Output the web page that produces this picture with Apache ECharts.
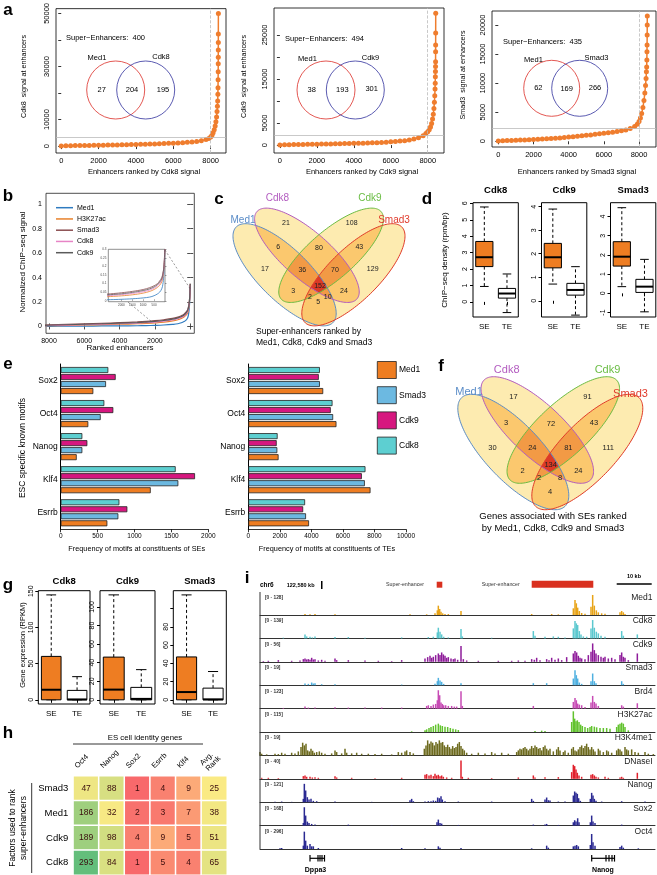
<!DOCTYPE html>
<html><head><meta charset="utf-8">
<script src="https://cdn.jsdelivr.net/npm/echarts@6/dist/echarts.min.js"></script>
<style>html,body{margin:0;padding:0;background:#fff;}#chart{width:657px;height:875px;}</style>
</head><body><div id="chart"></div>
<script>
// ================= DATA =================
// Panel a: ranked enhancer signal (rank, signal)
const aFlatRank = [0,250,500,750,1000,1250,1500,1750,2000,2250,2500,2750,3000,3250,3500,3750,4000,4250,4500,4750,5000,5250,5500,5750,6000,6250,6500,6750,7000,7250,7500,7750];
const aCdk8Flat = [50,100,150,180,210,240,270,300,330,360,390,420,460,500,540,580,620,670,720,770,830,890,960,1030,1110,1200,1300,1420,1560,1750,2000,2450];
const aCdk8TailRank = [7900,8000,8070,8130,8190,8240,8280,8315,8340,8360,8375,8385,8392,8398,8402,8405,8407,8408,8409,8410,8412];
const aCdk8TailSig = [2900,3400,4100,5000,6200,7600,9200,11000,13000,15000,17000,19500,22000,25000,28000,31000,33500,36200,39000,42200,50000];
const aCdk9Flat = [30,60,90,110,130,150,170,190,210,230,250,270,290,310,335,360,385,410,440,470,500,540,580,660,750,820,900,1000,1140,1350,1650,2100];
const aCdk9TailRank = [7900,8000,8080,8150,8210,8260,8300,8335,8360,8380,8395,8405,8412,8417,8421,8424,8426,8428,8430,8432];
const aCdk9TailSig = [2600,3000,3500,4100,4900,5900,7000,8300,9700,11200,12700,14000,15500,16700,17800,18900,21200,22700,25400,29900];
const aSmad3Flat = [60,90,120,150,180,210,240,270,300,340,380,420,470,520,580,650,720,790,860,940,1020,1100,1190,1280,1370,1470,1570,1680,1800,1960,2180,2550];
const aSmad3TailRank = [7900,8000,8080,8150,8220,8280,8330,8370,8400,8420,8435,8445,8452,8458,8463,8467,8470];
const aSmad3TailSig = [2950,3400,4000,4800,5800,7000,8300,9600,10800,11950,12800,14000,15400,16550,18300,20000,21550];
const aCutoffSig = [3400, 2270, 2300];
const aCutoffRank = [8000, 7960, 8010];
const aFactors = ['Cdk8','Cdk9','Smad3'];
const aSuperEnh = [400, 494, 435];
const aMed1Only = [27, 38, 62];
const aShared = [204, 193, 169];
const aOtherOnly = [195, 301, 266];

// Panel b: normalized signal vs rank
const bRank    = [8700,8000,7000,6000,5000,4000,3000,2500,2000,1500,1000,700,500,350,250,150,100,60,30,10,0];
const bMed1    = [0.000,0.001,0.002,0.003,0.004,0.005,0.006,0.007,0.009,0.012,0.017,0.022,0.030,0.040,0.050,0.070,0.095,0.140,0.200,0.280,0.330];
const bH3K27ac = [0.004,0.006,0.009,0.012,0.015,0.018,0.022,0.025,0.029,0.035,0.045,0.055,0.066,0.078,0.090,0.110,0.135,0.170,0.220,0.290,0.340];
const bSmad3   = [0.010,0.013,0.017,0.021,0.026,0.031,0.037,0.041,0.047,0.055,0.066,0.077,0.088,0.100,0.115,0.135,0.160,0.190,0.240,0.300,0.350];
const bCdk8    = [0.006,0.008,0.011,0.014,0.018,0.022,0.027,0.031,0.036,0.043,0.053,0.063,0.074,0.086,0.100,0.120,0.145,0.180,0.230,0.290,0.340];
const bCdk9    = [0.008,0.010,0.014,0.018,0.022,0.027,0.032,0.036,0.041,0.049,0.060,0.070,0.081,0.094,0.108,0.128,0.152,0.185,0.235,0.300,0.350];
const bNames = ['Med1','H3K27ac','Smad3','Cdk8','Cdk9'];

// Panel c / f: 4-way Venn region counts
const vennSets = ['Med1','Cdk8','Cdk9','Smad3'];
const cCounts = [21,108,6,80,43,17,36,70,129,3,152,24,2,10,5];
const fCounts = [17,91,3,72,43,30,24,81,111,2,134,24,2,8,4];

// Panel d: ChIP-seq density boxplots [lowWhisker, Q1, median, Q3, highWhisker] for SE, TE
const dTitles = ['Cdk8','Cdk9','Smad3'];
const dCdk8  = [[0.94,2.15,2.72,3.68,5.78],[-0.65,0.23,0.51,0.82,1.70]];
const dCdk9  = [[0.71,1.40,1.85,2.44,3.90],[-0.61,0.24,0.46,0.74,1.45]];
const dSmad3 = [[0.35,1.42,1.91,2.69,4.46],[-0.96,0.05,0.35,0.73,1.77]];
const boxCats = ['SE','TE'];

// Panel e: motif frequency
const eMotifs = ['Sox2','Oct4','Nanog','Klf4','Esrrb'];
const eSE_Cdk8  = [645,591,293,1558,795];
const eSE_Cdk9  = [745,713,361,1820,903];
const eSE_Smad3 = [614,542,293,1594,781];
const eSE_Med1  = [442,374,217,1220,632];
const eTE_Cdk8  = [4540,5340,1860,7430,3600];
const eTE_Cdk9  = [4470,5230,1800,7200,3480];
const eTE_Smad3 = [4540,5380,1840,7390,3660];
const eTE_Med1  = [4750,5590,1920,7750,3850];
const eLegend = ['Med1','Smad3','Cdk9','Cdk8'];

// Panel g: gene expression boxplots
const gCdk8  = [[0,0,13.9,60,145],[0,0,0.5,13,32]];
const gCdk9  = [[0,0,11,46,113],[0,0,1,13.4,32.5]];
const gSmad3 = [[0,0,8.5,47,115],[0,0,0.5,12.8,31]];

// Panel h: rank of ES cell identity genes
const hCols = ['Oct4','Nanog','Sox2','Esrrb','Klf4','Avg.\nRank'];
const hRows = ['Smad3','Med1','Cdk9','Cdk8'];
const hSmad3 = [47,88,1,4,9,25];
const hMed1  = [186,32,2,3,7,38];
const hCdk9  = [189,98,4,9,5,51];
const hCdk8  = [293,84,1,5,4,65];

// Panel i: genome browser tracks [position, height]
const iNames  = ['Med1','Cdk8','Cdk9','Smad3','Brd4','H3K27ac','H3K4me1','DNaseI','Nanog','Sox2','Oct4'];
const iRanges = ['[0 - 128]','[0 - 139]','[0 - 56]','[0 - 19]','[0 - 123]','[0 - 115]','[0 - 19]','[0 - 40]','[0 - 121]','[0 - 168]','[0 - 296]'];
const iMed1 = [[240,3],[255,2],[270,3],[330,2],[555,2],[605,2],[630,5],[637,14],[640,28],[644,18],[648,10],[653,5],[660,3],[670,3],[708,12],[920,3],[980,3],[1000,2],[1045,20],[1050,45],[1054,35],[1058,22],[1063,12],[1070,6],[1080,4],[1098,25],[1103,60],[1108,28],[1114,14],[1120,8],[1130,5],[1140,4],[1185,8],[1190,12],[1195,8],[1200,3]];
const iCdk8 = [[175,2],[240,12],[245,6],[255,5],[262,3],[270,6],[330,4],[370,4],[420,2],[530,3],[610,4],[625,5],[637,18],[640,32],[645,20],[650,12],[656,5],[670,3],[708,28],[712,6],[800,2],[925,22],[930,8],[960,5],[985,6],[1000,5],[1020,3],[1045,30],[1050,52],[1054,45],[1058,40],[1063,22],[1068,12],[1075,6],[1085,5],[1098,30],[1103,55],[1108,32],[1114,20],[1120,15],[1128,8],[1140,5],[1190,22],[1195,8],[1237,12]];
const iCdk9 = [[115,2],[130,3],[160,5],[200,3],[225,4],[235,8],[240,10],[245,7],[250,8],[255,6],[260,12],[265,7],[270,8],[280,4],[290,6],[300,3],[330,10],[335,5],[370,5],[420,4],[460,3],[500,2],[530,5],[600,10],[608,14],[615,18],[620,12],[625,15],[632,20],[640,25],[645,20],[650,28],[655,22],[660,18],[665,12],[670,14],[678,10],[685,8],[690,10],[698,6],[708,47],[715,8],[725,4],[760,3],[820,3],[860,3],[880,4],[900,3],[920,8],[928,6],[935,12],[945,5],[965,8],[972,5],[980,12],[990,6],[1000,10],[1010,5],[1025,14],[1045,25],[1050,32],[1055,28],[1060,18],[1065,12],[1070,10],[1080,8],[1090,20],[1098,30],[1103,55],[1108,35],[1113,25],[1120,20],[1128,15],[1135,12],[1140,15],[1150,10],[1160,12],[1170,8],[1185,20],[1190,28],[1195,15],[1200,12],[1210,5],[1237,25]];
const iSmad3 = [[240,5],[250,4],[260,8],[265,5],[270,6],[290,3],[330,3],[530,2],[630,4],[637,12],[640,22],[645,14],[650,10],[656,4],[708,6],[925,6],[965,6],[1045,20],[1050,45],[1054,30],[1058,20],[1063,8],[1070,4],[1098,12],[1103,35],[1108,12],[1113,6],[1190,12],[1195,4]];
const iBrd4 = [[175,2],[240,6],[250,3],[270,3],[330,4],[370,3],[420,3],[470,3],[530,3],[605,8],[610,10],[618,8],[625,12],[632,14],[637,25],[640,55],[644,40],[648,18],[652,14],[656,10],[662,10],[670,8],[680,8],[688,6],[695,6],[708,52],[712,8],[925,8],[1045,20],[1050,32],[1054,25],[1058,15],[1063,12],[1070,10],[1080,5],[1098,18],[1103,38],[1108,20],[1113,15],[1120,8],[1190,10],[1195,6],[1237,16]];
const iH3K27ac = [[560,2],[600,5],[605,8],[612,12],[618,15],[625,18],[632,22],[640,25],[646,20],[652,18],[660,16],[668,15],[676,12],[684,10],[692,8],[700,6],[930,3],[950,4],[960,3],[1040,30],[1045,62],[1049,40],[1053,32],[1057,35],[1062,30],[1067,22],[1072,18],[1080,15],[1088,12],[1095,15],[1100,18],[1108,16],[1115,14],[1125,12],[1135,12],[1145,12],[1155,10],[1175,15],[1180,22],[1185,25],[1190,28],[1195,25],[1200,15],[1210,5]];
const iH3K4me1 = [[105,10],[110,5],[125,3],[150,5],[160,4],[170,8],[180,5],[200,8],[210,6],[220,12],[228,25],[233,38],[238,30],[243,35],[248,15],[253,12],[258,20],[263,14],[268,8],[275,10],[283,12],[290,8],[300,5],[320,6],[330,15],[335,10],[350,6],[360,20],[365,8],[380,6],[395,8],[410,5],[430,5],[450,4],[470,5],[500,3],[520,10],[530,8],[540,12],[545,15],[555,10],[565,6],[598,20],[603,30],[608,45],[613,35],[618,42],[623,38],[628,30],[633,40],[638,35],[643,45],[648,38],[653,40],[658,30],[663,25],[668,32],[673,25],[678,20],[683,28],[688,22],[693,25],[698,35],[703,40],[708,28],[713,20],[718,15],[725,8],[740,5],[760,8],[780,6],[800,10],[810,6],[830,8],[850,5],[875,10],[880,15],[885,20],[890,18],[895,22],[900,25],[905,20],[910,15],[915,20],[920,28],[925,22],[930,30],[935,25],[940,20],[945,22],[950,15],[955,25],[960,30],[965,20],[970,15],[975,20],[985,12],[995,18],[1000,25],[1005,15],[1015,10],[1020,15],[1030,8],[1040,20],[1045,25],[1050,15],[1055,12],[1060,18],[1065,25],[1070,30],[1075,22],[1080,28],[1085,35],[1090,25],[1095,18],[1100,25],[1105,18],[1110,12],[1120,20],[1125,15],[1135,10],[1145,15],[1150,12],[1160,8],[1175,15],[1180,20],[1185,18],[1190,12],[1200,25],[1205,18],[1210,15],[1220,18],[1230,10],[1240,8],[1260,10],[1270,5],[1285,4]];
const iDNaseI = [[110,3],[130,3],[160,2],[235,8],[240,10],[245,6],[255,6],[262,4],[270,5],[280,3],[330,8],[335,4],[380,3],[450,2],[530,3],[600,12],[605,14],[612,10],[618,12],[625,8],[630,15],[635,10],[640,12],[645,8],[650,10],[655,6],[665,4],[680,3],[708,55],[712,6],[730,3],[800,2],[880,4],[925,10],[930,4],[960,5],[1000,5],[1040,20],[1045,42],[1049,38],[1053,28],[1057,18],[1062,10],[1070,6],[1098,12],[1103,14],[1108,10],[1113,6],[1120,4],[1140,6],[1150,3],[1185,4],[1190,6],[1195,3],[1237,18]];
const iNanog = [[150,1],[170,2],[200,1],[235,10],[238,55],[242,35],[247,15],[252,8],[258,10],[265,4],[275,3],[330,2],[440,1],[555,6],[560,10],[565,3],[600,2],[610,3],[618,3],[625,5],[632,4],[638,14],[643,12],[648,18],[652,8],[660,3],[700,2],[800,2],[920,10],[925,4],[960,8],[965,14],[970,6],[975,5],[1000,2],[1020,2],[1045,20],[1049,32],[1053,28],[1057,25],[1061,12],[1066,4],[1096,10],[1100,28],[1104,20],[1108,10],[1113,4],[1130,2],[1190,3],[1260,2]];
const iSox2 = [[170,1],[235,8],[238,55],[242,30],[247,12],[252,8],[260,5],[270,3],[370,3],[500,1],[636,10],[640,18],[645,8],[650,6],[700,2],[925,3],[960,3],[965,5],[1000,2],[1045,10],[1049,16],[1053,12],[1058,22],[1062,10],[1096,10],[1100,30],[1104,12],[1110,8],[1190,3]];
const iOct4 = [[165,2],[170,3],[235,10],[238,52],[242,25],[247,10],[255,15],[260,8],[265,8],[280,3],[530,3],[600,2],[640,8],[645,4],[708,3],[920,2],[965,10],[970,4],[1045,8],[1050,10],[1055,12],[1060,8],[1096,12],[1100,45],[1104,20],[1110,10],[1185,6],[1190,10],[1195,4],[1240,2]];

// ================= BUILD =================
const FONT = '"Liberation Sans", Arial, Helvetica, sans-serif';
const ORANGE = '#EE7D22';
const grids = [], xAxes = [], yAxes = [], series = [], graphics = [];
const plain = v => String(v);
function addGrid(l, t, w, h, extra) { grids.push(Object.assign({left:l, top:t, width:w, height:h, containLabel:false}, extra||{})); return grids.length-1; }
function addX(o){ xAxes.push(o); return xAxes.length-1; }
function addY(o){ yAxes.push(o); return yAxes.length-1; }
function lbl(fs, extra) { return Object.assign({fontSize:fs, color:'#000', fontFamily:FONT}, extra||{}); }
function T(x, y, text, o) {
  o = o || {};
  graphics.push({type:'text', x:x, y:y, rotation:o.rot||0, z:100, silent:true,
    style:{text:text, fontSize:o.fs||8, fontFamily:FONT, fontWeight:o.fw||'normal', fill:o.color||'#000',
      align:o.align||'center', verticalAlign:o.va||'middle', textAlign:o.align||'center', textVerticalAlign:o.va||'middle', lineHeight:o.lh}});
}
function L(x1,y1,x2,y2,o){ o=o||{}; graphics.push({type:'line', z:90, silent:true, shape:{x1,y1,x2,y2}, style:{stroke:o.color||'#000', lineWidth:o.w||1, lineDash:o.dash||null}}); }
function R(x,y,w,h,o){ o=o||{}; graphics.push({type:'rect', z:o.z||90, silent:true, shape:{x,y,width:w,height:h}, style:{fill:o.fill||'#000', stroke:o.stroke||null, lineWidth:o.lw||0}}); }

// panel letters
[['a',8,10],['b',8,196],['c',219,199],['d',427,199],['e',8,364],['f',441,366],['g',8,585],['h',8,733],['i',247,578]].forEach(p=>T(p[1],p[2],p[0],{fs:17,fw:'bold'}));

// ---------- Panel a ----------
const aPlots = [
  {box:[56,8,170,145], x:[-280,8820], y:[-2600,51800], yl:[0,10000,30000,50000], yt:[0,10000,20000,30000,40000,50000],
   rank:aFlatRank.concat(aCdk8TailRank), sig:aCdk8Flat.concat(aCdk8TailSig), ytx:24,
   c1:[115.7,90], c2:[145.7,90], r:29, seX:66, seY:38, m1:[97,58], o:[161,57], n:[[101.7,90],[132,90],[163,90]]},
  {box:[274,8,170,145], x:[-320,8880], y:[-1800,31100], yl:[0,5000,15000,25000], yt:[0,5000,10000,15000,20000,25000],
   rank:aFlatRank.concat(aCdk9TailRank), sig:aCdk9Flat.concat(aCdk9TailSig), ytx:244,
   c1:[326,90], c2:[355.3,90], r:29, seX:285, seY:39, m1:[307.5,59], o:[370.5,58], n:[[311.7,90],[342.3,90],[371.7,89]]},
  {box:[492,11,164,136], x:[-358,8965], y:[-983,22414], yl:[0,5000,10000,15000,20000], yt:[0,5000,10000,15000,20000],
   rank:aFlatRank.concat(aSmad3TailRank), sig:aSmad3Flat.concat(aSmad3TailSig), ytx:463,
   c1:[551.7,88.3], c2:[579.7,88.3], r:28, seX:503, seY:41.7, m1:[533.5,60], o:[596.5,57.7], n:[[538.3,88.3],[566.7,89],[595,88.3]]}
];
aPlots.forEach((p, k) => {
  const gi = addGrid(p.box[0], p.box[1], p.box[2], p.box[3], {show:true, borderColor:'#000', borderWidth:0.8});
  const xi = addX({type:'value', gridIndex:gi, min:p.x[0], max:p.x[1], axisLine:{show:false}, splitLine:{show:false},
    axisTick:{show:true, length:3, customValues:[0,2000,4000,6000,8000], lineStyle:{color:'#000', width:0.8}},
    axisLabel:lbl(7.5, {margin:4, customValues:[0,2000,4000,6000,8000], formatter:plain})});
  const yi = addY({type:'value', gridIndex:gi, min:p.y[0], max:p.y[1], axisLine:{show:false}, splitLine:{show:false},
    axisTick:{show:true, length:3, customValues:p.yt, lineStyle:{color:'#000', width:0.8}},
    axisLabel:lbl(7.5, {margin:5, rotate:90, customValues:p.yl, formatter:plain})});
  series.push({type:'line', xAxisIndex:xi, yAxisIndex:yi, data:p.rank.map((r,i)=>[r,p.sig[i]]),
    symbol:'circle', symbolSize:5, showAllSymbol:true, itemStyle:{color:'#EF7D2E'}, lineStyle:{color:'#EF7D2E', width:1.5},
    animation:false, silent:true,
    markLine:{silent:true, symbol:'none', label:{show:false}, animation:false,
      data:[{yAxis:aCutoffSig[k], lineStyle:{color:'#BBBBBB', type:'solid', width:0.8}},
            {xAxis:aCutoffRank[k], lineStyle:{color:'#BBBBBB', type:'dashed', width:0.8}}]}});
  const cx = p.box[0] + p.box[2]/2 + 3;
  T(cx, 172, 'Enhancers ranked by ' + aFactors[k] + ' signal', {fs:7.5});
  T(p.ytx, p.box[1] + p.box[3]/2 - 4, aFactors[k] + '  signal at enhancers', {fs:7.2, rot:Math.PI/2});
  graphics.push({type:'circle', z:95, silent:true, shape:{cx:p.c1[0], cy:p.c1[1], r:p.r}, style:{fill:'none', stroke:'#E0453F', lineWidth:0.9}});
  graphics.push({type:'circle', z:95, silent:true, shape:{cx:p.c2[0], cy:p.c2[1], r:p.r}, style:{fill:'none', stroke:'#4848A8', lineWidth:0.9}});
  T(p.seX, p.seY, 'Super\u2212Enhancers:  ' + aSuperEnh[k], {fs:7.5, align:'left'});
  T(p.m1[0], p.m1[1], 'Med1', {fs:7.5});
  T(p.o[0], p.o[1], aFactors[k], {fs:7.5});
  T(p.n[0][0], p.n[0][1], String(aMed1Only[k]), {fs:7.5});
  T(p.n[1][0], p.n[1][1], String(aShared[k]), {fs:7.5});
  T(p.n[2][0], p.n[2][1], String(aOtherOnly[k]), {fs:7.5});
});

// ---------- Panel b ----------
const bColors = ['#2F7BC0','#E8812B','#8B4D50','#E784C6','#5A5A5A'];
const bData = [bMed1, bH3K27ac, bSmad3, bCdk8, bCdk9];
{
  const gi = addGrid(46, 193.3, 148.3, 140, {show:true, borderColor:'#222', borderWidth:0.8});
  const tk = () => ({show:true, inside:true, length:3, lineStyle:{color:'#222', width:0.8}});
  const xr = [-232, 8170], yr = [-0.056, 1.09];
  const xi = addX({type:'value', gridIndex:gi, inverse:true, min:xr[0], max:xr[1], axisLine:{show:false}, splitLine:{show:false},
    axisTick:Object.assign(tk(), {customValues:[8000,6000,4000,2000,0]}), axisLabel:lbl(7, {margin:4, customValues:[8000,6000,4000,2000], formatter:plain})});
  const yi = addY({type:'value', gridIndex:gi, min:yr[0], max:yr[1], axisLine:{show:false}, splitLine:{show:false},
    axisTick:Object.assign(tk(), {customValues:[0,0.2,0.4,0.6,0.8,1]}), axisLabel:lbl(7, {margin:4, customValues:[0,0.2,0.4,0.6,0.8,1], formatter:plain})});
  addX({type:'value', gridIndex:gi, position:'top', inverse:true, min:xr[0], max:xr[1], axisLine:{show:false}, splitLine:{show:false},
    axisTick:Object.assign(tk(), {customValues:[8000,6000,4000,2000,0]}), axisLabel:{show:false}});
  addY({type:'value', gridIndex:gi, position:'right', min:yr[0], max:yr[1], axisLine:{show:false}, splitLine:{show:false},
    axisTick:Object.assign(tk(), {customValues:[0,0.2,0.4,0.6,0.8,1]}), axisLabel:{show:false}});
  bData.forEach((d, k) => series.push({type:'line', xAxisIndex:xi, yAxisIndex:yi, data:bRank.map((r,i)=>[r,d[i]]), smooth:0.4,
    symbol:'none', lineStyle:{color:bColors[k], width:1.2}, animation:false, silent:true}));
  // inset
  const ii = addGrid(108.3, 249.3, 56.7, 52.4, {show:true, borderColor:'#444', borderWidth:0.6, backgroundColor:'#fff', z:5});
  const tk2 = () => ({show:true, inside:true, length:1.5, lineStyle:{color:'#444', width:0.5}});
  const xi2 = addX({type:'value', gridIndex:ii, inverse:true, min:0, max:2600, axisLine:{show:false}, splitLine:{show:false},
    axisTick:Object.assign(tk2(), {customValues:[2000,1500,1000,500]}), axisLabel:lbl(3, {margin:2, color:'#444', customValues:[2000,1500,1000,500], formatter:plain}), z:6});
  const yi2 = addY({type:'value', gridIndex:ii, min:-0.005, max:0.3, axisLine:{show:false}, splitLine:{show:false},
    axisTick:Object.assign(tk2(), {customValues:[0,0.05,0.1,0.15,0.2,0.25,0.3]}), axisLabel:lbl(3, {margin:2, color:'#444', customValues:[0,0.05,0.1,0.15,0.2,0.25,0.3], formatter:plain}), z:6});
  bData.forEach((d, k) => series.push({type:'line', xAxisIndex:xi2, yAxisIndex:yi2, data:bRank.map((r,i)=>[r,d[i]]), smooth:0.4,
    symbol:'none', lineStyle:{color:bColors[k], width:0.8}, animation:false, silent:true, z:7}));
  L(165, 250, 191, 290, {dash:[2,2], w:0.6, color:'#555'});
  L(128, 302, 152, 322, {dash:[2,2], w:0.6, color:'#555'});
  bNames.forEach((n, k) => { const y = 207.7 + k*11.25; L(56, y, 73, y, {color:bColors[k], w:1.5}); T(77, y, n, {fs:7, align:'left'}); });
  T(120, 348, 'Ranked enhancers', {fs:8});
  T(22.7, 262, 'Normalized ChIP\u2212seq signal', {fs:8, rot:Math.PI/2});
}

// ---------- Venn helpers (panels c, f) ----------
const vennEll = [ // base frame: cx, cy, a, b, angle(deg)
  [-37, 2, 75, 28, 46.5], [-13, -20, 73, 26, 43], [13, -20, 73, 26, 137], [37, 2, 75, 28, 133.5]];
const vennStroke = ['#5B8DC8','#B35CC0','#6BBD45','#E03A2B'];
const vennFill = ['#FDEBB0','#FBC86E','#F29A45','#DC3A25'];
function ellPoly(e, ox, oy, sx, sy) {
  const pts = [], n = 160, ang = e[4]*Math.PI/180;
  for (let i = 0; i < n; i++) { const t = 2*Math.PI*i/n; const x = e[2]*Math.cos(t), y = e[3]*Math.sin(t);
    pts.push([ox + sx*(e[0] + x*Math.cos(ang) - y*Math.sin(ang)), oy + sy*(e[1] + x*Math.sin(ang) + y*Math.cos(ang))]); }
  return pts;
}
function area(p){ let s=0; for(let i=0;i<p.length;i++){const a=p[i],b=p[(i+1)%p.length]; s+=a[0]*b[1]-b[0]*a[1];} return s/2; }
function inter(P,Q,A,B){ const d=(P[0]-Q[0])*(A[1]-B[1])-(P[1]-Q[1])*(A[0]-B[0]); const t=((P[0]-A[0])*(A[1]-B[1])-(P[1]-A[1])*(A[0]-B[0]))/d; return [P[0]+t*(Q[0]-P[0]), P[1]+t*(Q[1]-P[1])]; }
function clipPoly(subj, clip) {
  const sg = area(clip) > 0 ? 1 : -1; let out = subj;
  for (let i = 0; i < clip.length && out.length; i++) {
    const A = clip[i], B = clip[(i+1)%clip.length]; const inp = out; out = [];
    const ins = p => sg*((B[0]-A[0])*(p[1]-A[1]) - (B[1]-A[1])*(p[0]-A[0])) >= 0;
    for (let j = 0; j < inp.length; j++) { const P = inp[j], Q = inp[(j+1)%inp.length]; const pi = ins(P), qi = ins(Q);
      if (qi) { if (!pi) out.push(inter(P,Q,A,B)); out.push(Q); } else if (pi) out.push(inter(P,Q,A,B)); }
  }
  return out;
}
function drawVenn(ox, oy, sx, sy, counts, numPos, labPos, fsNum, fsLab) {
  const polys = vennEll.map(e => ellPoly(e, ox, oy, sx, sy));
  for (let lvl = 1; lvl <= 4; lvl++) {
    for (let m = 1; m < 16; m++) {
      const idx = [0,1,2,3].filter(i => m & (1<<i)); if (idx.length !== lvl) continue;
      let p = polys[idx[0]]; for (let k = 1; k < idx.length; k++) p = clipPoly(p, polys[idx[k]]);
      if (p.length > 2) graphics.push({type:'polygon', z:20+lvl, silent:true, shape:{points:p}, style:{fill:vennFill[lvl-1], stroke:vennFill[lvl-1], lineWidth:0.3}});
    }
  }
  polys.forEach((p, k) => graphics.push({type:'polygon', z:30, silent:true, shape:{points:p}, style:{fill:'none', stroke:vennStroke[k], lineWidth:1}}));
  counts.forEach((c, k) => T(numPos[k][0], numPos[k][1], String(c), {fs:fsNum, color:'#222'}));
  vennSets.forEach((s, k) => T(labPos[k][0], labPos[k][1], s, {fs:fsLab, color:vennStroke[k]}));
}
drawVenn(319, 273, 0.93, 0.885, cCounts,
  [[286,222.7],[351.7,222.7],[278.3,247.3],[319,248.3],[359.3,247.3],[265,269.3],[302.3,270],[335,270],[372.7,269.3],[293.3,291],[320,286],[344,291],[310,297.3],[327.7,297.3],[318.3,302.3]],
  [[243,220.7],[277.5,198.3],[370,198.3],[394,220.7]], 7, 10);
T(256, 331.7, 'Super-enhancers ranked by', {fs:8.5, align:'left'});
T(256, 342.7, 'Med1, Cdk8, Cdk9 and Smad3', {fs:8.5, align:'left'});
drawVenn(550.3, 450, 1, 1, fCounts,
  [[513.5,397],[587.5,397],[506,423.3],[551,424.3],[594,423],[492.5,447.5],[532.3,448.3],[568.3,448.3],[608.3,447.7],[522.5,471],[550.7,465],[578.3,471],[539,478.3],[560,478.3],[550,492]],
  [[469,392.3],[506.7,370],[607.5,370],[630.5,394.3]], 7.5, 11);
T(553, 516, 'Genes associated with SEs ranked', {fs:9.5});
T(553, 528, 'by Med1, Cdk8, Cdk9 and Smad3', {fs:9.5});

// ---------- custom boxplot (R style) ----------
function boxRender(params, api) {
  const x = api.value(0), lo = api.value(1), q1 = api.value(2), md = api.value(3), q3 = api.value(4), hi = api.value(5);
  const fill = api.value(6) ? ORANGE : '#fff';
  const pLo = api.coord([x, lo]), pQ1 = api.coord([x, q1]), pMd = api.coord([x, md]), pQ3 = api.coord([x, q3]), pHi = api.coord([x, hi]);
  const band = api.size([1, 0])[0], hw = band*0.38, cw = band*0.19, cx = pMd[0];
  return {type:'group', children:[
    {type:'line', shape:{x1:cx, y1:pQ3[1], x2:cx, y2:pHi[1]}, style:{stroke:'#000', lineWidth:1, lineDash:[3,2.5]}},
    {type:'line', shape:{x1:cx, y1:pQ1[1], x2:cx, y2:pLo[1]}, style:{stroke:'#000', lineWidth:1, lineDash:[3,2.5]}},
    {type:'line', shape:{x1:cx-cw, y1:pHi[1], x2:cx+cw, y2:pHi[1]}, style:{stroke:'#000', lineWidth:1}},
    {type:'line', shape:{x1:cx-cw, y1:pLo[1], x2:cx+cw, y2:pLo[1]}, style:{stroke:'#000', lineWidth:1}},
    {type:'rect', shape:{x:cx-hw, y:pQ3[1], width:2*hw, height:pQ1[1]-pQ3[1]}, style:{fill:fill, stroke:'#000', lineWidth:1}},
    {type:'line', shape:{x1:cx-hw, y1:pMd[1], x2:cx+hw, y2:pMd[1]}, style:{stroke:'#000', lineWidth:2}}
  ]};
}
function boxPanel(box, yr, ticks, labels, stats, title, titleY) {
  const gi = addGrid(box[0], box[1], box[2], box[3], {show:true, borderColor:'#000', borderWidth:1});
  const xi = addX({type:'category', gridIndex:gi, data:boxCats, axisLine:{show:false}, splitLine:{show:false},
    axisTick:{show:true, alignWithLabel:true, length:3, lineStyle:{color:'#000'}}, axisLabel:lbl(8, {margin:6})});
  const yi = addY({type:'value', gridIndex:gi, min:yr[0], max:yr[1], axisLine:{show:false}, splitLine:{show:false},
    axisTick:{show:true, length:3, customValues:ticks, lineStyle:{color:'#000'}}, axisLabel:lbl(7, {margin:4, rotate:90, customValues:labels, formatter:plain})});
  series.push({type:'custom', xAxisIndex:xi, yAxisIndex:yi, renderItem:boxRender, animation:false, silent:true,
    encode:{x:0, y:[1,2,3,4,5]}, data:stats.map((s, i) => [i].concat(s).concat([i === 0 ? 1 : 0]))});
  T(box[0] + box[2]/2, titleY, title, {fs:9.5, fw:'bold'});
}
boxPanel([473,202.7,45.3,114.3], [-0.92,6.04], [0,1,2,3,4,5,6], [0,1,2,3,4,5,6], dCdk8, dTitles[0], 190);
boxPanel([541.5,202.7,45.3,114.3], [-0.69,4.17], [0,1,2,3,4], [0,1,2,3,4], dCdk9, dTitles[1], 190);
boxPanel([610.5,202.7,45.3,114.3], [-1.23,4.72], [-1,0,1,2,3,4], [-1,0,1,2,3,4], dSmad3, dTitles[2], 190);
T(445, 260, 'ChIP\u2212seq density (rpm/bp)', {fs:8, rot:Math.PI/2});
boxPanel([38.3,590.7,51.7,113.3], [-5.8,150.8], [0,50,100,150], [0,50,100,150], gCdk8, dTitles[0], 581.7);
boxPanel([100,590.7,55,113.3], [-4.5,117.5], [0,20,40,60,80,100], [0,20,40,60,80,100], gCdk9, dTitles[1], 581.7);
boxPanel([173.3,590.7,53,113.3], [-4.6,119.6], [0,20,40,60,80,100,120], [0,20,40,60,80,120], gSmad3, dTitles[2], 581.7);
T(22.7, 645, 'Gene expression (RPKM)', {fs:7.5, rot:Math.PI/2});

// ---------- Panel e ----------
const eColors = {Med1:ORANGE, Smad3:'#6CB9E1', Cdk9:'#D6177F', Cdk8:'#5DCFD1'};
function barPanel(box, max, interval, sets) {
  const gi = addGrid(box[0], box[1], box[2], box[3]);
  const xi = addX({type:'value', gridIndex:gi, min:0, max:max, interval:interval, axisLine:{show:true, lineStyle:{color:'#000', width:0.8}}, splitLine:{show:false},
    axisTick:{show:true, length:3, lineStyle:{color:'#000', width:0.8}}, axisLabel:lbl(6.5, {margin:3, formatter:plain})});
  const yi = addY({type:'category', gridIndex:gi, inverse:true, data:eMotifs, axisLine:{show:true, lineStyle:{color:'#000', width:1}},
    axisTick:{show:false}, splitLine:{show:false}, axisLabel:lbl(8.5, {margin:3})});
  sets.forEach(s => series.push({type:'bar', name:s[0], xAxisIndex:xi, yAxisIndex:yi, data:s[1], barWidth:6, barGap:'17%',
    itemStyle:{color:eColors[s[0]], borderColor:'#222', borderWidth:0.8}, animation:false, silent:true}));
}
barPanel([60.7,364,147.6,165.3], 2000, 500, [['Cdk8',eSE_Cdk8],['Cdk9',eSE_Cdk9],['Smad3',eSE_Smad3],['Med1',eSE_Med1]]);
barPanel([248.3,364,157.7,165.3], 10000, 2000, [['Cdk8',eTE_Cdk8],['Cdk9',eTE_Cdk9],['Smad3',eTE_Smad3],['Med1',eTE_Med1]]);
T(136.7, 549.3, 'Frequency of motifs at constituents of SEs', {fs:7.3});
T(327, 549.3, 'Frequency of motifs at constituents of TEs', {fs:7.3});
T(22.7, 448, 'ESC specific known motifs', {fs:8.5, rot:Math.PI/2});
eLegend.forEach((n, k) => { const y = 370 + k*25.2; R(377.3, y-8.5, 19, 17, {fill:eColors[n], stroke:'#222', lw:0.8}); T(399, y, n, {fs:8.5, align:'left'}); });

// ---------- Panel h ----------
{
  const gi = addGrid(73.3, 776, 153.7, 99);
  const xi = addX({type:'category', gridIndex:gi, position:'top', data:hCols, axisLine:{show:false}, axisTick:{show:false}, splitLine:{show:false},
    axisLabel:{show:false}});
  const yi = addY({type:'category', gridIndex:gi, inverse:true, data:hRows, axisLine:{show:false}, axisTick:{show:false}, splitLine:{show:false},
    axisLabel:lbl(9.5, {margin:5})});
  const rowsData = [hSmad3, hMed1, hCdk9, hCdk8];
  const all = [].concat(...rowsData).sort((a,b)=>a-b);
  const mn = all[0], mx = all[all.length-1], mid = (all[11]+all[12])/2;
  const cR=[248,105,107], cY=[255,235,132], cG=[99,190,123];
  function col(v){ let a,b,t; if (v<=mid){a=cR;b=cY;t=(v-mn)/(mid-mn);} else {a=cY;b=cG;t=(v-mid)/(mx-mid);} return 'rgb('+a.map((c,i)=>Math.round(c+(b[i]-c)*t)).join(',')+')'; }
  const data = [];
  rowsData.forEach((r, y) => r.forEach((v, x) => data.push({value:[x, y, v], itemStyle:{color:col(v)}})));
  series.push({type:'heatmap', xAxisIndex:xi, yAxisIndex:yi, data:data, animation:false, silent:true,
    itemStyle:{borderColor:'#fff', borderWidth:1.5},
    label:{show:true, fontSize:8.5, color:'#3A0D0D', fontFamily:'"Liberation Sans", sans-serif', formatter:p=>String(p.value[2])}});
  const cw = 153.7/6;
  hCols.forEach((c, k) => T(73.3 + cw*(k+0.5) - 10, 767, c, {fs:7.5, align:'left', rot:Math.PI/4, lh:8}));
  T(145, 738.3, 'ES cell identity genes', {fs:7.8});
  L(73, 744, 203, 744, {w:0.8});
  L(31.7, 783, 31.7, 873, {w:0.8});
  T(13, 828, 'Factors used to rank', {fs:8.5, rot:Math.PI/2});
  T(23.5, 828, 'super-enhancers', {fs:8.5, rot:Math.PI/2});
}

// ---------- Panel i ----------
{
  const tracks = [iMed1,iCdk8,iCdk9,iSmad3,iBrd4,iH3K27ac,iH3K4me1,iDNaseI,iNanog,iSox2,iOct4];
  const tColors = ['#E8A317','#5CC8CF','#8E1C9A','#4FB0E0','#C74BB5','#62C22E','#6E6B1F','#E0202C','#2B2A92','#2B2A92','#2B2A92'];
  tracks.forEach((d, k) => {
    const base = 615 + 23.4*k;
    const gi = addGrid(260, base - 20.7, 395, 20.7);
    const xi = addX({type:'value', gridIndex:gi, min:105, max:1290, axisLine:{show:true, onZero:false, lineStyle:{color:'#333', width:1}}, axisTick:{show:false}, axisLabel:{show:false}, splitLine:{show:false}});
    const yi = addY({type:'value', gridIndex:gi, min:0, max:62, show:false});
    series.push({type:'bar', xAxisIndex:xi, yAxisIndex:yi, data:d, barWidth:1.5, itemStyle:{color:tColors[k]}, animation:false, silent:true});
    T(265, base - 17.4, iRanges[k], {fs:4.8, fw:'bold', align:'left', color:'#333'});
    T(652.5, base - 17.4, iNames[k], {fs:8.5, align:'right', color:'#222'});
  });
  L(260, 592, 260, 849, {w:1, color:'#333'});
  T(260, 585, 'chr6', {fs:6.5, fw:'bold', align:'left'});
  T(286.7, 585, '122,580 kb', {fs:5.5, fw:'bold', align:'left'});
  R(321, 581, 1.5, 8);
  T(386, 585, 'Super-enhancer', {fs:5.3, align:'left', color:'#333'});
  R(436.7, 581.7, 5.6, 6, {fill:'#D9301F'});
  T(481.7, 585, 'Super-enhancer', {fs:5.3, align:'left', color:'#333'});
  R(531.7, 580.7, 61.6, 7, {fill:'#D9301F'});
  T(634, 576.7, '10 kb', {fs:5.5, fw:'bold'});
  L(616.7, 584, 651.7, 584, {w:1.3});
  L(310, 858.3, 325, 858.3, {w:1.2}); [310,318,320,322,324.5].forEach(x=>R(x-0.6, 855, 1.2, 6.6));
  L(591.7, 858.3, 615, 858.3, {w:1.2}); [591.7,606,609,612,614.5].forEach(x=>R(x-0.6, 855, 1.2, 6.6));
  T(315.5, 870.5, 'Dppa3', {fs:7, fw:'bold'});
  T(603, 870.5, 'Nanog', {fs:7, fw:'bold'});
}

const chart = echarts.init(document.getElementById('chart'), null, {renderer:'canvas', width:657, height:875});
chart.setOption({animation:false, backgroundColor:'#fff', textStyle:{fontFamily:FONT},
  grid:grids, xAxis:xAxes, yAxis:yAxes, series:series, graphic:{elements:graphics}});
</script></body></html>
